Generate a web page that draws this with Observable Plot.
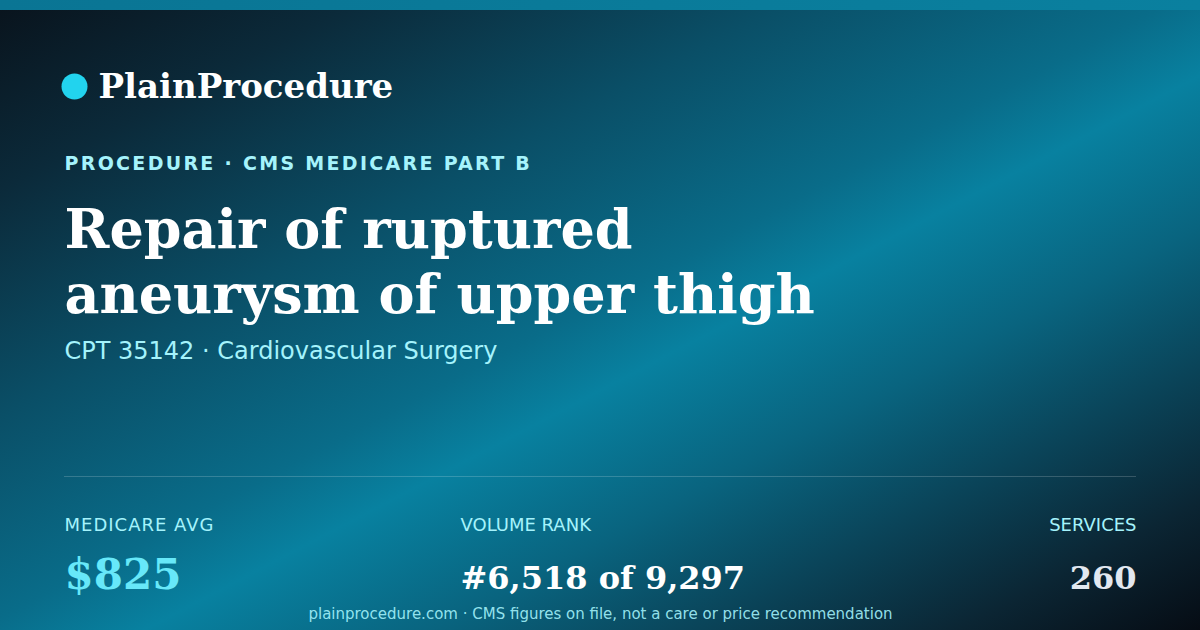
<!DOCTYPE html>
<html>
<head>
<meta charset="utf-8">
<script src="https://cdn.jsdelivr.net/npm/d3@7"></script>
<script src="https://cdn.jsdelivr.net/npm/@observablehq/plot@0.6"></script>
<style>
  html, body { margin: 0; padding: 0; background: #060c14; }
  #card {
    position: relative; width: 1200px; height: 630px; overflow: hidden;
    background: linear-gradient(to bottom right,
      #09131c 0%, #0b2a3a 15%, #0a4f67 33%, #096c89 49%, #0881a0 56%,
      #09647f 68%, #0a4459 79%, #0b2533 90%, #060c14 100%);
  }
  #band { position: absolute; left: 0; top: 0; width: 1200px; height: 10px;
    background: linear-gradient(to right, #0a7594, #0a809f); }
  #card svg { position: absolute; left: 0; top: 0; }
</style>
</head>
<body>
<div id="card"><div id="band"></div></div>
<script>
// ---- content / data ----
const brand = ["PlainProcedure"];
const eyebrow = ["PROCEDURE · CMS MEDICARE PART B"];
const titleLines = ["Repair of ruptured", "aneurysm of upper thigh"];
const subtitle = ["CPT 35142 · Cardiovascular Surgery"];
const statLabels = ["MEDICARE AVG", "VOLUME RANK", "SERVICES"];
const medicareAvg = [825];
const volumeRank = [6518];
const volumeTotal = [9297];
const services = [260];
const footer = ["plainprocedure.com · CMS figures on file, not a care or price recommendation"];

// ---- layout (pixels) ----
const L = {
  dotX: 74, dotY: 86, dotR: 13,
  brandX: 98, brandY: 97,
  left: 64, right: 1136, mid: 460,
  eyebrowY: 169, title1Y: 247, title2Y: 312, subY: 358,
  ruleY: 476, labelY: 530, valueY: 588, footerY: 618, footerX: 600
};

const fmt = d3.format(",");
const statValues = [
  "$" + fmt(medicareAvg[0]),
  "#" + fmt(volumeRank[0]) + " of " + fmt(volumeTotal[0]),
  fmt(services[0])
];
const statX = [L.left, L.mid, L.right];

const serif = "'DejaVu Serif', serif";
const sans = "'DejaVu Sans', sans-serif";

const chart = Plot.plot({
  width: 1200, height: 630, margin: 0,
  x: {type: "identity", axis: null},
  y: {type: "identity", axis: null},
  style: {background: "transparent", overflow: "visible"},
  marks: [
    Plot.dot([0], {x: L.dotX, y: L.dotY, r: L.dotR, fill: "#22d3ee", stroke: null}),
    Plot.text(brand, {x: L.brandX, y: L.brandY, text: d => d, textAnchor: "start", lineAnchor: "bottom",
      fontFamily: serif, fontWeight: "bold", fontSize: 34, fill: "#ffffff"}),
    Plot.text(eyebrow, {x: L.left, y: L.eyebrowY, text: d => d, textAnchor: "start", lineAnchor: "bottom",
      fontFamily: sans, fontWeight: "bold", fontSize: 19, fill: "#a5f3fc", ariaLabel: "eyebrow"}),
    Plot.text(titleLines, {x: L.left, y: (d, i) => i === 0 ? L.title1Y : L.title2Y, text: d => d,
      textAnchor: "start", lineAnchor: "bottom",
      fontFamily: serif, fontWeight: "bold", fontSize: 54, fill: "#ffffff"}),
    Plot.text(subtitle, {x: L.left, y: L.subY, text: d => d, textAnchor: "start", lineAnchor: "bottom",
      fontFamily: sans, fontSize: 24, fill: "#a5f3fc"}),
    Plot.ruleY([L.ruleY], {x1: L.left, x2: L.right, stroke: "#ffffff", strokeOpacity: 0.18, strokeWidth: 1}),
    Plot.text(statLabels.slice(0, 1), {x: statX[0], y: L.labelY, text: d => d,
      textAnchor: "start", lineAnchor: "bottom", fontFamily: sans, fontSize: 18, fill: "#a5f3fc", ariaLabel: "statlabel-spaced"}),
    Plot.text(statLabels.slice(1, 2), {x: statX[1], y: L.labelY, text: d => d,
      textAnchor: "start", lineAnchor: "bottom", fontFamily: sans, fontSize: 18, fill: "#a5f3fc"}),
    Plot.text(statLabels.slice(2), {x: statX[2], y: L.labelY, text: d => d,
      textAnchor: "end", lineAnchor: "bottom", fontFamily: sans, fontSize: 18, fill: "#a5f3fc"}),
    Plot.text(statValues.slice(0, 1), {x: statX[0], y: L.valueY, text: d => d,
      textAnchor: "start", lineAnchor: "bottom", fontFamily: serif, fontWeight: "bold", fontSize: 42, fill: "#67e8f9"}),
    Plot.text(statValues.slice(1, 2), {x: statX[1], y: L.valueY, text: d => d,
      textAnchor: "start", lineAnchor: "bottom", fontFamily: serif, fontWeight: "bold", fontSize: 32, fill: "#ffffff"}),
    Plot.text(statValues.slice(2), {x: statX[2], y: L.valueY, text: d => d,
      textAnchor: "end", lineAnchor: "bottom", fontFamily: serif, fontWeight: "bold", fontSize: 32, fill: "#e2e8f0"}),
    Plot.text(footer, {x: L.footerX, y: L.footerY, text: d => d, textAnchor: "middle", lineAnchor: "bottom",
      fontFamily: sans, fontSize: 15, fill: "#a5f3fc", fillOpacity: 0.9})
  ]
});

document.getElementById("card").appendChild(chart);
const spacing = {[eyebrow[0]]: "2.3px", [statLabels[0]]: "1px"};
chart.querySelectorAll("text").forEach(t => {
  const s = spacing[t.textContent];
  if (s) { t.style.letterSpacing = s; t.setAttribute("letter-spacing", s); }
});
</script>
</body>
</html>
